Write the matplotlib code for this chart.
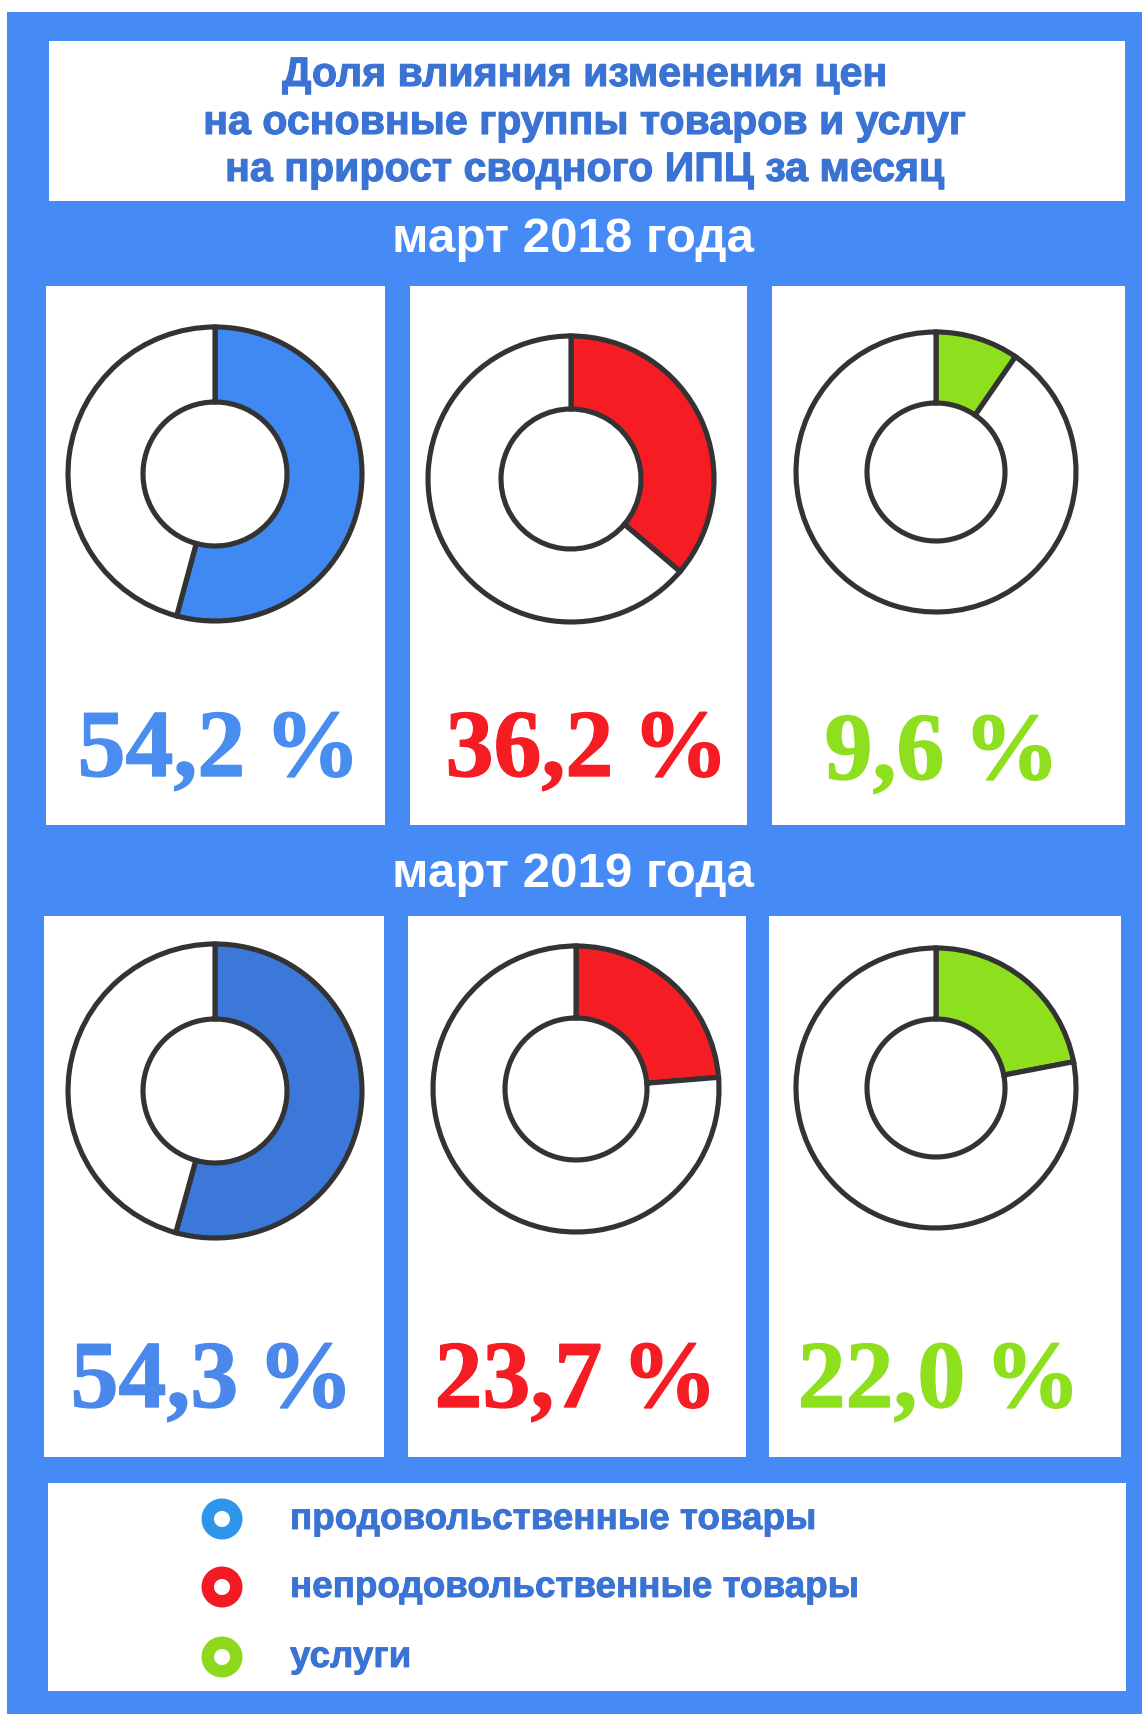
import matplotlib
matplotlib.use("Agg")
import matplotlib.pyplot as plt
from matplotlib.patches import Rectangle, Wedge
import matplotlib.patheffects as pe

# ---------------- data ----------------
title_lines = ["Доля влияния изменения цен",
               "на основные группы товаров и услуг",
               "на прирост сводного ИПЦ за месяц"]
periods = ["март 2018 года", "март 2019 года"]
categories = ["продовольственные товары", "непродовольственные товары", "услуги"]
share_2018 = [54.2, 36.2, 9.6]
share_2019 = [54.3, 23.7, 22.0]

# ---------------- style ----------------
W, H = 1142, 1715
DPI = 100
BG_BLUE = "#468bf5"
TITLE_COLOR = "#3a73d3"
EDGE = "#333333"
wedge_colors = [["#4189f2", "#f51c23", "#8ee01e"],
                ["#3b78d9", "#f51c23", "#8ee01e"]]
pct_colors = [["#4a8df1", "#f51c23", "#8ee01e"],
              ["#4a88ec", "#f51c23", "#8ee01e"]]
legend_colors = ["#2f95ea", "#f21b25", "#8ed81d"]

fig = plt.figure(figsize=(W / DPI, H / DPI), dpi=DPI)
ax = fig.add_axes([0, 0, 1, 1])


def Y(y):
    return H - y


# background
ax.add_patch(Rectangle((7, Y(H)), W - 7, H - 13, facecolor=BG_BLUE, edgecolor="none", zorder=0))
# title box
ax.add_patch(Rectangle((49, Y(202)), 1125 - 49, 202 - 42, facecolor="white", edgecolor="none", zorder=1))
title_baselines = [87, 135, 182]
for line, yb in zip(title_lines, title_baselines):
    ax.text(585, Y(yb), line, ha="center", va="baseline", fontsize=29.6,
            fontweight="bold", family="Liberation Sans", color=TITLE_COLOR, zorder=3,
            path_effects=[pe.withStroke(linewidth=0.8, foreground=TITLE_COLOR)])

# panels
panel_x = [[(46, 385), (410, 747), (772, 1125)],
           [(44, 384), (408, 746), (769, 1121)]]
panel_y = [(287, 826), (917, 1458)]
period_baseline = [252, 887]
centers = [[(215, 475), (571, 480), (936, 473)],
           [(215, 1092), (576, 1090), (936, 1089)]]
radii = [[(147, 72), (143, 70), (140, 69)],
         [(147, 72), (143, 71), (140, 69)]]
pct_pos = [[(219, 777), (587, 777), (942, 780)],
           [(212, 1408), (576, 1408), (939, 1408)]]

shares = [share_2018, share_2019]
for r in range(2):
    ax.text(W / 2 + 2, Y(period_baseline[r]), periods[r], ha="center", va="baseline",
            fontsize=35.5, fontweight="bold", family="Liberation Sans", color="white", zorder=3)
    y0, y1 = panel_y[r]
    for c in range(3):
        x0, x1 = panel_x[r][c]
        ax.add_patch(Rectangle((x0, Y(y1)), x1 - x0, y1 - y0, facecolor="white",
                               edgecolor="none", zorder=1))
        v = shares[r][c]
        cx, cy = centers[r][c]
        ro, ri = radii[r][c]
        wedges, _ = ax.pie([v, 100 - v], colors=[wedge_colors[r][c], "white"],
                           startangle=90, counterclock=False, radius=ro,
                           center=(cx, Y(cy)), frame=True,
                           wedgeprops=dict(width=ro - ri, edgecolor=EDGE,
                                           linewidth=3.7, joinstyle="miter"))
        for w in wedges:
            w.set_zorder(2)
        px, py = pct_pos[r][c]
        label = f"{v:.1f}".replace(".", ",") + "\u2009%"
        col = pct_colors[r][c]
        ax.text(px, Y(py), label, ha="center", va="baseline", fontsize=69,
                fontweight="bold", family=["Liberation Serif", "DejaVu Serif"], color=col,
                zorder=3, path_effects=[pe.withStroke(linewidth=1.0, foreground=col)])

# legend box
ax.add_patch(Rectangle((48, Y(1692)), 1126 - 48, 1692 - 1484, facecolor="white",
                       edgecolor="none", zorder=1))
leg_y = [1520, 1588, 1658]
for name, col, ly in zip(categories, legend_colors, leg_y):
    ax.add_patch(Wedge((222, Y(ly)), 20.5, 0, 360, width=12.5, facecolor=col,
                       edgecolor="none", zorder=3))
    ax.text(290, Y(ly + 10), name, ha="left", va="baseline", fontsize=26.5,
            fontweight="bold", family="Liberation Sans", color=TITLE_COLOR, zorder=3,
            path_effects=[pe.withStroke(linewidth=0.6, foreground=TITLE_COLOR)])

ax.set_xlim(0, W)
ax.set_ylim(0, H)
ax.set_aspect("auto")
ax.axis("off")
fig.savefig("out.png", dpi=DPI, facecolor="white")
